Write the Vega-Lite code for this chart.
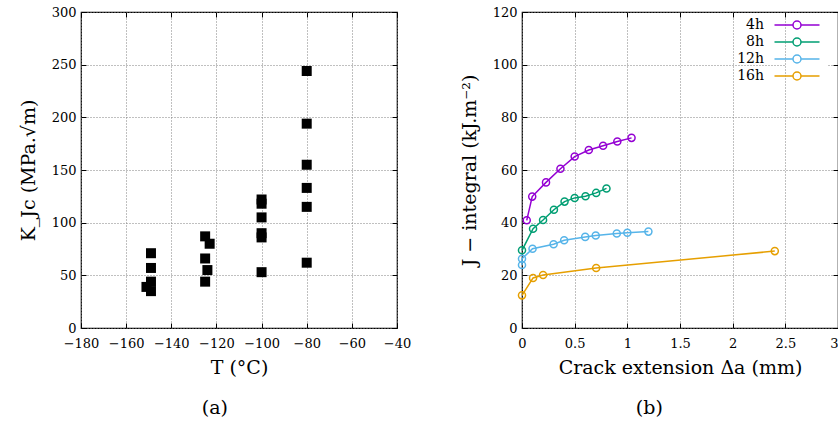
{
  "$schema": "https://vega.github.io/schema/vega-lite/v6.json",
  "background": "white",
  "padding": {"left": 18, "top": 5, "right": 0, "bottom": 5},
  "datasets": {
    "kjc": [
      {"T": -149, "K": 71}, {"T": -149, "K": 57}, {"T": -149, "K": 44}, {"T": -149, "K": 35}, {"T": -151, "K": 39},
      {"T": -125, "K": 87}, {"T": -125, "K": 66}, {"T": -125, "K": 44}, {"T": -123, "K": 80}, {"T": -124, "K": 55},
      {"T": -100, "K": 122}, {"T": -100, "K": 118}, {"T": -100, "K": 105}, {"T": -100, "K": 90}, {"T": -100, "K": 86}, {"T": -100, "K": 53},
      {"T": -80, "K": 244}, {"T": -80, "K": 194}, {"T": -80, "K": 155}, {"T": -80, "K": 133}, {"T": -80, "K": 115}, {"T": -80, "K": 62}
    ],
    "jr": [
      {"series": "4h", "idx": 1, "da": 0.045, "J": 40.9},
      {"series": "4h", "idx": 2, "da": 0.097, "J": 49.9},
      {"series": "4h", "idx": 3, "da": 0.228, "J": 55.3},
      {"series": "4h", "idx": 4, "da": 0.365, "J": 60.5},
      {"series": "4h", "idx": 5, "da": 0.5, "J": 65.1},
      {"series": "4h", "idx": 6, "da": 0.634, "J": 67.6},
      {"series": "4h", "idx": 7, "da": 0.77, "J": 69.2},
      {"series": "4h", "idx": 8, "da": 0.905, "J": 70.8},
      {"series": "4h", "idx": 9, "da": 1.04, "J": 72.2},
      {"series": "8h", "idx": 1, "da": 0, "J": 29.5},
      {"series": "8h", "idx": 2, "da": 0.105, "J": 37.7},
      {"series": "8h", "idx": 3, "da": 0.2, "J": 41},
      {"series": "8h", "idx": 4, "da": 0.303, "J": 44.9},
      {"series": "8h", "idx": 5, "da": 0.404, "J": 48},
      {"series": "8h", "idx": 6, "da": 0.5, "J": 49.4},
      {"series": "8h", "idx": 7, "da": 0.603, "J": 50},
      {"series": "8h", "idx": 8, "da": 0.704, "J": 51.3},
      {"series": "8h", "idx": 9, "da": 0.802, "J": 53},
      {"series": "12h", "idx": 1, "da": 0, "J": 23.9},
      {"series": "12h", "idx": 2, "da": 0, "J": 26.3},
      {"series": "12h", "idx": 3, "da": 0.1, "J": 30.1},
      {"series": "12h", "idx": 4, "da": 0.3, "J": 31.8},
      {"series": "12h", "idx": 5, "da": 0.4, "J": 33.3},
      {"series": "12h", "idx": 6, "da": 0.6, "J": 34.6},
      {"series": "12h", "idx": 7, "da": 0.7, "J": 35.1},
      {"series": "12h", "idx": 8, "da": 0.9, "J": 35.9},
      {"series": "12h", "idx": 9, "da": 1.0, "J": 36.2},
      {"series": "12h", "idx": 10, "da": 1.2, "J": 36.6},
      {"series": "16h", "idx": 1, "da": 0, "J": 12.4},
      {"series": "16h", "idx": 2, "da": 0.105, "J": 19},
      {"series": "16h", "idx": 3, "da": 0.2, "J": 20.1},
      {"series": "16h", "idx": 4, "da": 0.704, "J": 22.8},
      {"series": "16h", "idx": 5, "da": 2.4, "J": 29.2}
    ]
  },
  "config": {
    "font": "DejaVu Serif",
    "view": {"stroke": "black", "strokeWidth": 1.2},
    "axis": {
      "domain": false, "grid": true, "gridColor": "#808080", "gridDash": [1, 2], "gridWidth": 1,
      "tickColor": "black", "tickSize": -5, "labelFont": "DejaVu Serif", "labelFontSize": 13,
      "labelColor": "black", "titleFont": "DejaVu Serif", "titleFontSize": 19, "titleFontWeight": "normal",
      "titleColor": "black", "labelOverlap": false, "labelFlush": false
    },
    "axisX": {"labelPadding": 14, "titlePadding": 8},
    "axisY": {"labelPadding": 10, "titlePadding": 13},
    "title": {"font": "DejaVu Serif", "fontSize": 19, "fontWeight": "normal", "orient": "bottom", "anchor": "middle", "frame": "bounds", "color": "black", "offset": 22},
    "legend": {
      "orient": "none", "legendX": 264, "legendY": 2, "padding": 4, "fillColor": "white", "labelFont": "DejaVu Serif",
      "labelFontSize": 14, "labelColor": "black", "symbolSize": 100, "symbolStrokeWidth": 1.5,
      "labelOffset": -40, "labelAlign": "right", "rowPadding": 3,
      "symbolType": "M-4.5,0H-0.8M0.8,0H4.5M-0.8,0A0.8,0.8,0,1,0,0.8,0A0.8,0.8,0,1,0,-0.8,0",
      "symbolFillColor": "transparent"
    }
  },
  "spacing": 47,
  "resolve": {"legend": {"color": "independent"}},
  "hconcat": [
    {
      "width": 316, "height": 316,
      "title": {"text": "(a)"},
      "data": {"name": "kjc"},
      "layer": [
        {
          "mark": {"type": "square", "size": 100, "color": "black", "opacity": 1, "filled": true},
          "encoding": {
            "x": {"field": "T", "type": "quantitative", "scale": {"domain": [-180, -40], "nice": false},
                  "axis": {"values": [-180, -160, -140, -120, -100, -80, -60, -40], "title": "T (°C)"}},
            "y": {"field": "K", "type": "quantitative", "scale": {"domain": [0, 300], "nice": false},
                  "axis": {"values": [0, 50, 100, 150, 200, 250, 300], "title": "K_Jc (MPa.√m)"}}
          }
        },
        {
          "mark": {"type": "square", "size": 100, "opacity": 0},
          "encoding": {
            "x": {"field": "T", "type": "quantitative", "scale": {"domain": [-180, -40], "nice": false},
                  "axis": {"orient": "top", "values": [-180, -160, -140, -120, -100, -80, -60, -40], "labels": false, "title": null, "grid": false, "minExtent": 0, "maxExtent": 0}},
            "y": {"field": "K", "type": "quantitative", "scale": {"domain": [0, 300], "nice": false},
                  "axis": {"orient": "right", "values": [0, 50, 100, 150, 200, 250, 300], "labels": false, "title": null, "grid": false, "minExtent": 0, "maxExtent": 0}}
          }
        }
      ],
      "resolve": {"axis": {"x": "independent", "y": "independent"}}
    },
    {
      "width": 316, "height": 316,
      "title": {"text": "(b)"},
      "data": {"name": "jr"},
      "layer": [
        {
          "mark": {"type": "line", "strokeWidth": 1.5},
          "encoding": {
            "x": {"field": "da", "type": "quantitative", "scale": {"domain": [0, 3], "nice": false},
                  "axis": {"values": [0, 0.5, 1, 1.5, 2, 2.5, 3], "format": "~g", "title": "Crack extension Δa (mm)",
                           "labelAlign": {"condition": {"test": "datum.value == 3", "value": "right"}, "value": "center"}}},
            "y": {"field": "J", "type": "quantitative", "scale": {"domain": [0, 120], "nice": false},
                  "axis": {"values": [0, 20, 40, 60, 80, 100, 120], "title": "J − integral (kJ.m⁻²)"}},
            "color": {"field": "series", "type": "nominal",
                      "scale": {"domain": ["4h", "8h", "12h", "16h"], "range": ["#9400d3", "#009e73", "#56b4e9", "#e69f00"]},
                      "legend": {"title": null}},
            "order": {"field": "idx", "type": "quantitative"}
          }
        },
        {
          "mark": {"type": "point", "filled": false, "size": 50, "strokeWidth": 1.5, "opacity": 1},
          "encoding": {
            "x": {"field": "da", "type": "quantitative", "axis": null},
            "y": {"field": "J", "type": "quantitative", "axis": null},
            "color": {"field": "series", "type": "nominal"}
          }
        },
        {
          "mark": {"type": "point", "opacity": 0},
          "encoding": {
            "x": {"field": "da", "type": "quantitative",
                  "axis": {"orient": "top", "values": [0, 0.5, 1, 1.5, 2, 2.5, 3], "labels": false, "title": null, "grid": false, "minExtent": 0, "maxExtent": 0}},
            "y": {"field": "J", "type": "quantitative",
                  "axis": {"orient": "right", "values": [0, 20, 40, 60, 80, 100, 120], "labels": false, "title": null, "grid": false, "minExtent": 0, "maxExtent": 0}}
          }
        }
      ],
      "resolve": {"axis": {"x": "independent", "y": "independent"}}
    }
  ]
}
